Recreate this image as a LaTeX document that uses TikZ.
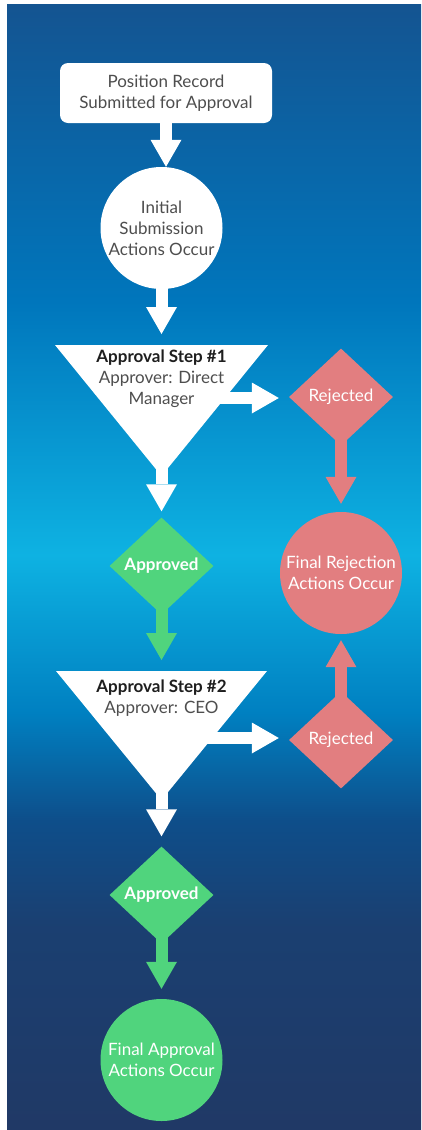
\documentclass[tikz,border=0pt]{standalone}
\usepackage{fontspec}
\setmainfont{Lato}
\usetikzlibrary{arrows.meta,shapes.geometric,positioning}

\definecolor{bgtop}{RGB}{20,84,145}
\definecolor{bgmida}{RGB}{0,118,188}
\definecolor{bglight}{RGB}{14,178,226}
\definecolor{bgmidb}{RGB}{0,128,193}
\definecolor{bgdeep}{RGB}{14,78,138}
\definecolor{bgbottom}{RGB}{32,57,102}
\definecolor{okgreen}{RGB}{80,212,125}
\definecolor{nopink}{RGB}{226,126,128}
\definecolor{txtgray}{RGB}{78,78,78}
\definecolor{txtdark}{RGB}{30,30,30}

\pgfdeclareverticalshading{backdrop}{100bp}{color(0bp)=(bgbottom); color(25bp)=(bgbottom);
  color(34bp)=(bgbottom!70!bgdeep); color(38.7bp)=(bgdeep); color(43.5bp)=(bgmidb);
  color(50.5bp)=(bglight); color(61.8bp)=(bgmida); color(75bp)=(bgtop); color(100bp)=(bgtop)}

\begin{document}
\begin{tikzpicture}[x=1pt,y=-1pt,
    txt/.style={font=\fontsize{17}{21}\selectfont, align=center},
    startbox/.style={txt, fill=white, text=txtgray, rounded corners=8pt, minimum width=212pt, minimum height=60pt},
    bubble/.style={txt, circle, inner sep=0pt, minimum size=122pt},
    gem/.style={txt, diamond, inner sep=0pt, minimum width=104pt, minimum height=97pt, text=white},
    fat/.style={line width=12pt, -{Triangle[width=31pt,length=27pt,line width=0pt]}},
  ]
  \useasboundingbox (0,0) rectangle (422,1130);
  \fill[white] (0,0) rectangle (422,1130);
  \shade[shading=backdrop] (7,4) rectangle (421,1129);

  % main column
  \node[startbox] (record) at (166,93) {Position Record\\Submitted for Approval};
  \node[bubble, fill=white, text=txtgray] (initial) at (161.5,228) {Initial\\Submission\\Actions Occur};

  \fill[white] (55,345) -- (268,345) -- (161.5,476) -- cycle;
  \coordinate (s1top) at (161.5,345);
  \coordinate (s1tip) at (161.5,476);
  \coordinate (s1out) at (205,398);
  \node[txt, text=txtgray] (step1) at (161.5,379) {{\bfseries\color{txtdark}Approval Step \#1}\\Approver: Direct\\Manager};

  \node[gem, fill=okgreen, font=\fontsize{17}{21}\selectfont\bfseries] (approved1) at (161.5,566) {Approved};

  \fill[white] (56,671) -- (267,671) -- (161.5,800) -- cycle;
  \coordinate (s2top) at (161.5,671);
  \coordinate (s2tip) at (161.5,800);
  \coordinate (s2out) at (205,738);
  \node[txt, text=txtgray] (step2) at (161.5,698.5) {{\bfseries\color{txtdark}Approval Step \#2}\\Approver: CEO};

  \node[gem, fill=okgreen, font=\fontsize{17}{21}\selectfont\bfseries] (approved2) at (161.5,895) {Approved};
  \node[bubble, fill=okgreen, text=white] (finalok) at (161.5,1060) {Final Approval\\Actions Occur};

  % rejection column
  \node[gem, fill=nopink] (reject1) at (341,397) {Rejected};
  \node[bubble, fill=nopink, text=white] (finalno) at (341,573) {Final Rejection\\Actions Occur};
  \node[gem, fill=nopink] (reject2) at (341,740) {Rejected};

  % arrows
  \draw[fat, white] (record.south) -- (record.south |- initial.north);
  \draw[fat, white, shorten >=11pt] ([yshift=2pt]initial.south) -- (s1top);
  \draw[fat, white, shorten >=6pt] ([yshift=16pt]s1tip) -- (approved1.north);
  \draw[fat, okgreen, shorten >=11pt] ([yshift=8pt]approved1.south) -- (s2top);
  \draw[fat, white, shorten >=10pt] ([yshift=16pt]s2tip) -- (approved2.north);
  \draw[fat, okgreen, shorten >=10pt] ([yshift=8pt]approved2.south) -- (finalok.north);
  \draw[fat, white, shorten >=10pt] (s1out) -- (s1out -| reject1.west);
  \draw[fat, white, shorten >=10pt] (s2out) -- (s2out -| reject2.west);
  \draw[fat, nopink, shorten >=8pt] ([yshift=8pt]reject1.south) -- (finalno.north);
  \draw[fat, nopink, shorten >=6pt] ([yshift=-8pt]reject2.north) -- (finalno.south);
\end{tikzpicture}
\end{document}
